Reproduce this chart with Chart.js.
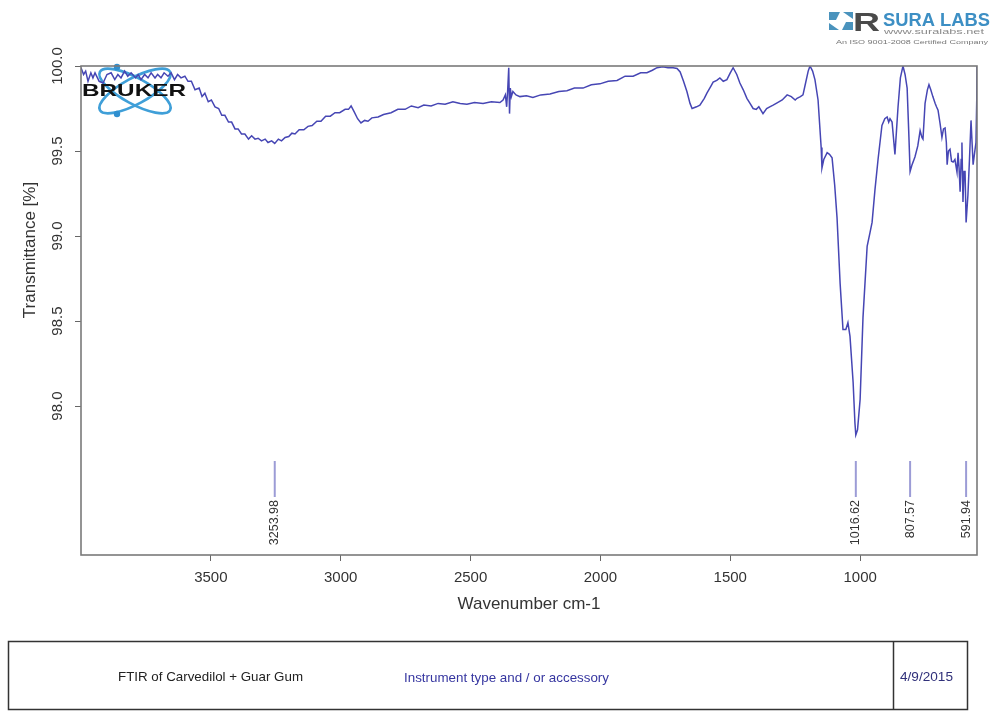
<!DOCTYPE html>
<html>
<head>
<meta charset="utf-8">
<title>FTIR of Carvedilol + Guar Gum</title>
<script src="https://cdn.jsdelivr.net/npm/chart.js@4.4.1/dist/chart.umd.min.js"></script>
<style>
  html, body { margin: 0; padding: 0; background: #ffffff; }
  canvas { display: block; }
</style>
</head>
<body>
<canvas id="spectrum" width="995" height="714"></canvas>
<script>
// Spectrum: wavenumber (cm-1) and transmittance (%)
const wavenumbers = [
  4000, 3990, 3982, 3973, 3962, 3954, 3946, 3930, 3915, 3900, 3884, 3870, 3858, 3846, 3832, 3820,
  3807, 3790, 3780, 3769, 3755, 3742, 3730, 3715, 3705, 3692, 3680, 3665, 3653, 3640, 3628, 3615,
  3600, 3588, 3575, 3561, 3545, 3534, 3523, 3510, 3498, 3484, 3470, 3458, 3446, 3432, 3420, 3407,
  3395, 3382, 3369, 3355, 3343, 3330, 3318, 3305, 3291, 3280, 3266, 3254, 3240, 3228, 3214, 3200,
  3188, 3176, 3160, 3142, 3126, 3110, 3092, 3076, 3058, 3040, 3022, 3004, 2983, 2970, 2960, 2948,
  2935, 2922, 2908, 2895, 2880, 2856, 2835, 2806, 2780, 2752, 2728, 2702, 2680, 2652, 2625, 2598,
  2568, 2540, 2514, 2485, 2452, 2420, 2387, 2375, 2366, 2361, 2357, 2353, 2350, 2347, 2343, 2337,
  2325, 2310, 2285, 2260, 2230, 2194, 2160, 2129, 2100, 2067, 2035, 2002, 1970, 1936, 1905, 1874,
  1845, 1821, 1800, 1782, 1760, 1740, 1720, 1705, 1693, 1680, 1667, 1655, 1647, 1630, 1617, 1600,
  1590, 1575, 1566, 1552, 1540, 1527, 1513, 1500, 1489, 1475, 1463, 1450, 1436, 1424, 1412, 1400,
  1390, 1374, 1360, 1348, 1335, 1318, 1300, 1281, 1265, 1250, 1243, 1230, 1220, 1210, 1200, 1193,
  1183, 1174, 1162, 1150, 1147, 1140, 1127, 1118, 1108, 1098, 1089, 1077, 1066, 1055, 1047, 1039,
  1027, 1020, 1016.62, 1010, 1000, 989, 973, 962, 954, 943, 931, 916, 905, 896, 890, 885,
  877, 866, 860, 854, 845, 835, 827, 819, 813, 807.57, 800, 789, 778, 769, 762, 758,
  750, 741, 735, 728, 720, 711, 706, 700, 692, 685, 679, 673, 668, 665, 660, 654,
  648, 642, 635, 627, 623, 619, 615, 611, 608, 604, 600, 596, 591.94, 585, 579, 573,
  569, 565, 560, 554, 551, 550
];
const transmittance = [
  99.99, 99.95, 99.97, 99.91, 99.96, 99.93, 99.96, 99.91, 99.90, 99.95, 99.96, 99.92, 99.95, 99.93, 99.97, 99.94,
  99.96, 99.93, 99.95, 99.92, 99.95, 99.93, 99.96, 99.93, 99.95, 99.93, 99.96, 99.94, 99.96, 99.92, 99.95, 99.93,
  99.94, 99.91, 99.91, 99.86, 99.87, 99.82, 99.84, 99.79, 99.80, 99.76, 99.75, 99.71, 99.71, 99.67, 99.67, 99.63,
  99.63, 99.60, 99.60, 99.57, 99.59, 99.57, 99.575, 99.56, 99.57, 99.55, 99.56, 99.545, 99.57, 99.56, 99.58, 99.585,
  99.605, 99.60, 99.625, 99.625, 99.645, 99.65, 99.675, 99.675, 99.705, 99.705, 99.725, 99.725, 99.745, 99.745, 99.765, 99.73,
  99.69, 99.665, 99.68, 99.675, 99.695, 99.70, 99.715, 99.725, 99.745, 99.745, 99.765, 99.755, 99.77, 99.765, 99.78, 99.775,
  99.79, 99.78, 99.775, 99.785, 99.78, 99.79, 99.785, 99.80, 99.83, 99.76, 99.86, 99.99, 99.72, 99.87, 99.82, 99.85,
  99.83, 99.82, 99.825, 99.815, 99.83, 99.835, 99.85, 99.855, 99.87, 99.87, 99.89, 99.895, 99.91, 99.915, 99.94, 99.94,
  99.96, 99.96, 99.975, 99.99, 99.995, 99.99, 99.99, 99.985, 99.965, 99.91, 99.85, 99.78, 99.75, 99.76, 99.77, 99.81,
  99.84, 99.88, 99.905, 99.915, 99.93, 99.91, 99.92, 99.96, 99.99, 99.95, 99.90, 99.86, 99.81, 99.78, 99.75, 99.745,
  99.76, 99.72, 99.75, 99.76, 99.77, 99.785, 99.80, 99.83, 99.82, 99.80, 99.81, 99.82, 99.83, 99.90, 99.97, 100.00,
  99.97, 99.92, 99.80, 99.52, 99.40, 99.45, 99.49, 99.48, 99.46, 99.30, 99.11, 98.72, 98.45, 98.45, 98.49, 98.41,
  98.14, 97.90, 97.83, 97.86, 98.04, 98.52, 98.94, 99.02, 99.08, 99.27, 99.45, 99.65, 99.69, 99.70, 99.67, 99.69,
  99.67, 99.48, 99.62, 99.76, 99.93, 100.00, 99.95, 99.87, 99.62, 99.38, 99.42, 99.465, 99.53, 99.62, 99.58, 99.57,
  99.78, 99.86, 99.89, 99.86, 99.82, 99.78, 99.76, 99.74, 99.66, 99.58, 99.63, 99.635, 99.55, 99.42, 99.50, 99.51,
  99.44, 99.435, 99.45, 99.376, 99.49, 99.40, 99.26, 99.45, 99.55, 99.20, 99.38, 99.38, 99.08, 99.24, 99.45, 99.68,
  99.55, 99.42, 99.48, 99.55, 99.80, 100.00
];

// Axis ticks
const xTickValues = [3500, 3000, 2500, 2000, 1500, 1000];
const yTickValues = [98.0, 98.5, 99.0, 99.5, 100.0];

// Annotated peaks
const peakPositions = [3253.98, 1016.62, 807.57, 591.94];
const peakLabels = ['3253.98', '1016.62', '807.57', '591.94'];

// Footer texts
const sampleName = 'FTIR of Carvedilol + Guar Gum';
const instrumentText = 'Instrument type and / or accessory';
const measureDate = '4/9/2015';

const FONT = '"Liberation Sans", Arial, Helvetica, sans-serif';
Chart.defaults.font.family = FONT;

// Draw text squeezed/stretched horizontally to a given width
function fitText(ctx, text, x, y, width, align) {
  const w = ctx.measureText(text).width;
  const s = width / w;
  ctx.save();
  let left = x;
  if (align === 'center') left = x - width / 2;
  ctx.translate(left, y);
  ctx.scale(s, 1);
  ctx.textAlign = 'left';
  ctx.fillText(text, 0, 0);
  ctx.restore();
}

const decorations = {
  id: 'decorations',
  beforeDatasetsDraw(chart) {
    const ctx = chart.ctx;
    // Bruker atom orbits
    ctx.save();
    ctx.strokeStyle = '#3f9fd8';
    ctx.lineWidth = 2.6;
    ctx.beginPath();
    ctx.ellipse(135, 91, 40, 13, 0.5, 0, Math.PI * 2);
    ctx.stroke();
    ctx.beginPath();
    ctx.ellipse(135, 91, 40, 13, -0.5, 0, Math.PI * 2);
    ctx.stroke();
    ctx.fillStyle = '#2f8fcf';
    [[117, 67], [117, 114]].forEach(([px, py]) => {
      ctx.beginPath();
      ctx.arc(px, py, 3.2, 0, Math.PI * 2);
      ctx.fill();
    });
    ctx.restore();
  },
  afterDatasetsDraw(chart) {
    const ctx = chart.ctx;
    const area = chart.chartArea;
    const xs = chart.scales.x;
    const ys = chart.scales.y;

    // Plot frame
    ctx.save();
    ctx.strokeStyle = '#7a7a7a';
    ctx.lineWidth = 1.6;
    ctx.strokeRect(area.left, area.top, area.right - area.left, area.bottom - area.top);
    ctx.restore();

    // Bruker word mark
    ctx.save();
    ctx.fillStyle = '#111';
    ctx.font = 'bold 17px ' + FONT;
    ctx.textBaseline = 'middle';
    fitText(ctx, 'BRUKER', 82, 91, 104, 'left');
    ctx.restore();

    // Y tick labels (rotated, reading upwards)
    ctx.save();
    ctx.fillStyle = '#333';
    ctx.font = '15px ' + FONT;
    ctx.textAlign = 'center';
    ctx.textBaseline = 'middle';
    yTickValues.forEach(v => {
      const py = ys.getPixelForValue(v);
      ctx.save();
      ctx.translate(58, py);
      ctx.rotate(-Math.PI / 2);
      ctx.fillText(v.toFixed(1), 0, 0);
      ctx.restore();
    });
    // Y axis title
    ctx.font = '17px ' + FONT;
    ctx.save();
    ctx.translate(30, 250);
    ctx.rotate(-Math.PI / 2);
    ctx.fillText('Transmittance [%]', 0, 0);
    ctx.restore();
    // X axis title
    ctx.fillText('Wavenumber cm-1', (area.left + area.right) / 2, 604);
    ctx.restore();

    // Peak markers and labels
    ctx.save();
    peakPositions.forEach((p, i) => {
      const px = xs.getPixelForValue(p);
      ctx.strokeStyle = '#9c9cd6';
      ctx.lineWidth = 2;
      ctx.beginPath();
      ctx.moveTo(px, 461);
      ctx.lineTo(px, 497);
      ctx.stroke();
      ctx.save();
      ctx.translate(px, 500);
      ctx.rotate(-Math.PI / 2);
      ctx.fillStyle = '#333';
      ctx.font = '12.5px ' + FONT;
      ctx.textAlign = 'right';
      ctx.textBaseline = 'middle';
      ctx.fillText(peakLabels[i], 0, 0);
      ctx.restore();
    });
    ctx.restore();

    // Footer box
    ctx.save();
    ctx.strokeStyle = '#333';
    ctx.lineWidth = 1.5;
    ctx.strokeRect(8.5, 641.5, 959, 68);
    ctx.beginPath();
    ctx.moveTo(893.5, 641.5);
    ctx.lineTo(893.5, 709.5);
    ctx.stroke();
    ctx.textBaseline = 'middle';
    ctx.font = '13px ' + FONT;
    ctx.fillStyle = '#222';
    fitText(ctx, sampleName, 118, 677, 185, 'left');
    ctx.fillStyle = '#3636a0';
    fitText(ctx, instrumentText, 404, 678, 205, 'left');
    ctx.fillStyle = '#30307a';
    fitText(ctx, measureDate, 900, 677, 53, 'left');
    ctx.restore();

    // Sura Labs logo
    ctx.save();
    ctx.fillStyle = '#4a93bd';
    ctx.beginPath();
    ctx.moveTo(829, 12); ctx.lineTo(840, 12); ctx.lineTo(836, 20); ctx.lineTo(829, 20); ctx.closePath(); ctx.fill();
    ctx.beginPath();
    ctx.moveTo(843, 12); ctx.lineTo(853, 12); ctx.lineTo(853, 19); ctx.closePath(); ctx.fill();
    ctx.beginPath();
    ctx.moveTo(829, 23); ctx.lineTo(839, 30); ctx.lineTo(829, 30); ctx.closePath(); ctx.fill();
    ctx.beginPath();
    ctx.moveTo(846, 22); ctx.lineTo(853, 22); ctx.lineTo(853, 30); ctx.lineTo(842, 30); ctx.closePath(); ctx.fill();
    ctx.fillStyle = '#4a4a4a';
    ctx.font = 'bold 26px ' + FONT;
    ctx.textBaseline = 'alphabetic';
    fitText(ctx, 'R', 853, 31, 27, 'left');
    ctx.fillStyle = '#3d8fc4';
    ctx.font = 'bold 18px ' + FONT;
    fitText(ctx, 'SURA LABS', 883, 26, 107, 'left');
    ctx.fillStyle = '#8a8a8a';
    ctx.font = '8px ' + FONT;
    fitText(ctx, 'www.suralabs.net', 884, 34, 100, 'left');
    ctx.fillStyle = '#777';
    ctx.font = '6px ' + FONT;
    fitText(ctx, 'An ISO 9001-2008 Certified Company', 836, 44, 152, 'left');
    ctx.restore();
  }
};

const points = wavenumbers.map((w, i) => ({ x: w, y: transmittance[i] }));

new Chart(document.getElementById('spectrum').getContext('2d'), {
  type: 'line',
  data: {
    datasets: [{
      data: points,
      borderColor: '#4646b4',
      borderWidth: 1.5,
      pointRadius: 0,
      tension: 0,
      fill: false
    }]
  },
  options: {
    responsive: false,
    animation: false,
    devicePixelRatio: 1,
    layout: { padding: { left: 0, top: 66, right: 18, bottom: 0 } },
    plugins: { legend: { display: false }, tooltip: { enabled: false } },
    scales: {
      x: {
        type: 'linear',
        reverse: true,
        min: 550,
        max: 4000,
        afterBuildTicks: s => { s.ticks = xTickValues.map(v => ({ value: v })); },
        afterFit: s => { s.height = 159; },
        grid: { drawOnChartArea: false, tickLength: 6, color: '#666', lineWidth: 1 },
        border: { display: false },
        ticks: {
          color: '#333',
          font: { size: 15 },
          padding: 8,
          maxRotation: 0,
          autoSkip: false,
          callback: v => String(v)
        }
      },
      y: {
        type: 'linear',
        min: 97.124,
        max: 100.0,
        afterBuildTicks: s => { s.ticks = yTickValues.map(v => ({ value: v })); },
        afterFit: s => { s.width = 81; },
        grid: { drawOnChartArea: false, tickLength: 6, color: '#666', lineWidth: 1 },
        border: { display: false },
        ticks: { display: false }
      }
    }
  },
  plugins: [decorations]
});
</script>
</body>
</html>
